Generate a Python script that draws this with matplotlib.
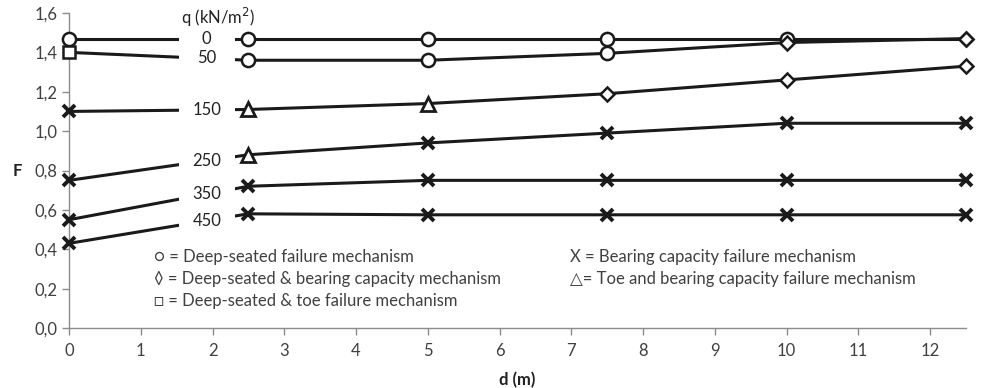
import numpy as np
import matplotlib
matplotlib.use("Agg")
import matplotlib.pyplot as plt
from matplotlib.ticker import FuncFormatter

plt.rcParams['font.family'] = ['Lato', 'DejaVu Sans']

# depth of the cut (m)
d = [0, 2.5, 5, 7.5, 10, 12.5]

# surcharge (kN/m2) and factor of safety for each
q_values = [0, 50, 150, 250, 350, 450]
F_q0 = [1.47, 1.47, 1.47, 1.47, 1.47, 1.47]
F_q50 = [1.40, 1.36, 1.36, 1.395, 1.45, 1.47]
F_q150 = [1.10, 1.11, 1.14, 1.19, 1.26, 1.33]
F_q250 = [0.75, 0.88, 0.94, 0.99, 1.04, 1.04]
F_q350 = [0.55, 0.72, 0.75, 0.75, 0.75, 0.75]
F_q450 = [0.43, 0.58, 0.575, 0.575, 0.575, 0.575]

# failure mechanism at every point
# D = deep-seated, DB = deep-seated & bearing, DT = deep-seated & toe,
# B = bearing capacity, TB = toe & bearing
mech_q0 = ['D', 'D', 'D', 'D', 'D', 'DB']
mech_q50 = ['DT', 'D', 'D', 'D', 'DB', 'DB']
mech_q150 = ['B', 'TB', 'TB', 'DB', 'DB', 'DB']
mech_q250 = ['B', 'TB', 'B', 'B', 'B', 'B']
mech_q350 = ['B', 'B', 'B', 'B', 'B', 'B']
mech_q450 = ['B', 'B', 'B', 'B', 'B', 'B']

series = [F_q0, F_q50, F_q150, F_q250, F_q350, F_q450]
mechs = [mech_q0, mech_q50, mech_q150, mech_q250, mech_q350, mech_q450]

legend_left = ['\u25cb = Deep-seated failure mechanism',
               '\u25ca = Deep-seated & bearing capacity mechanism',
               '\u25a1 = Deep-seated & toe failure mechanism']
legend_right = ['X = Bearing capacity failure mechanism',
                '\u25b3= Toe and bearing capacity failure mechanism']

marker_style = {
    'D': dict(marker='o', markersize=9.5, mew=1.8),
    'DB': dict(marker='D', markersize=7.5, mew=1.8),
    'DT': dict(marker='s', markersize=9, mew=1.8),
    'B': dict(marker='x', markersize=9, mew=2.8),
    'TB': dict(marker='^', markersize=9.5, mew=2.0),
}

line_col = '#1a1a1a'
axis_col = '#8c8c8c'
text_col = '#404040'

fig = plt.figure(figsize=(9.84, 3.88), dpi=100)
ax = fig.add_axes([0.0701, 0.1546, 0.9116, 0.8119])

for F, mech in zip(series, mechs):
    ax.plot(d, F, color=line_col, lw=2.2, zorder=2, clip_on=False)
    for x, y, m in zip(d, F, mech):
        ax.plot([x], [y], linestyle='none', color=line_col,
                markerfacecolor='white', markeredgecolor=line_col,
                zorder=5, clip_on=False, **marker_style[m])

# gap in the lines where the q labels sit
ax.axvspan(1.53, 2.32, ymin=0.30, ymax=0.95, color='white', zorder=3, lw=0)

for q, F in zip(q_values, series):
    ax.text(1.92, np.interp(1.92, d, F), str(q), ha='center', va='center',
            fontsize=12, color='#222222', zorder=4)
ax.text(2.07, 1.575, 'q (kN/m$^2$)', ha='center', va='center',
        fontsize=12, color='#222222')

for i, s in enumerate(legend_left):
    ax.text(1.18, 0.36 - i * 0.112, s, ha='left', va='center',
            fontsize=12, color=text_col)
for i, s in enumerate(legend_right):
    ax.text(6.98, 0.36 - i * 0.112, s, ha='left', va='center',
            fontsize=12, color=text_col)

ax.set_xlim(0, 12.5)
ax.set_ylim(0, 1.6)
ax.set_xticks(range(0, 13))
ax.set_yticks(np.arange(0, 1.61, 0.2))
ax.yaxis.set_major_formatter(FuncFormatter(lambda v, p: f'{v:.1f}'.replace('.', ',')))

for side in ['top', 'right']:
    ax.spines[side].set_visible(False)
for side in ['left', 'bottom']:
    ax.spines[side].set_color(axis_col)
    ax.spines[side].set_linewidth(1.0)
ax.tick_params(axis='both', colors=axis_col, labelcolor=text_col,
               labelsize=12, length=5, width=1.0)
ax.tick_params(axis='x', pad=6)

ax.set_xlabel('d (m)', fontsize=12, fontweight='bold', color='#222222', labelpad=9)
ax.set_ylabel('F', fontsize=12, fontweight='bold', color='#222222',
              rotation=0, va='center', labelpad=0)
ax.yaxis.set_label_coords(-0.058, 0.5)

fig.savefig('out.png', dpi=100)
